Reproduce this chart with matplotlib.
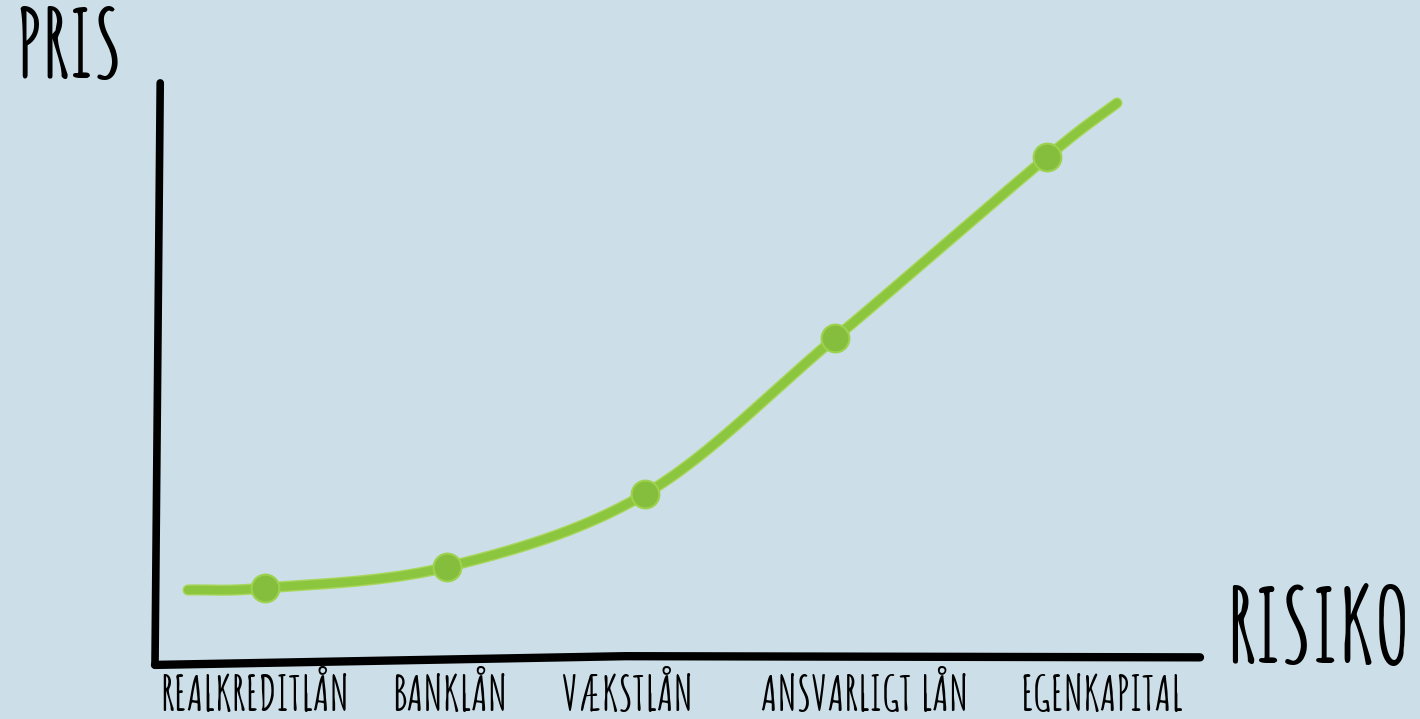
import numpy as np
import matplotlib.pyplot as plt

# --- data ---
categories = ["REALKREDITLÅN", "BANKLÅN", "VÆKSTLÅN", "ANSVARLIGT LÅN", "EGENKAPITAL"]
risk = [1.10, 2.92, 4.90, 6.80, 8.92]       # x of the dots
price = [0.74, 0.95, 1.68, 3.24, 5.05]      # y of the dots
# the drawn line runs a bit past the first and last dot
line_start = (0.33, 0.72)
line_end = (9.62, 5.59)

bg = "#CCDEE8"
green = "#8CC63F"
dot_green = "#84BE3C"


def catmull_rom(xs, ys, n=40):
    # smooth curve through the given points
    px = np.concatenate([[2 * xs[0] - xs[1]], xs, [2 * xs[-1] - xs[-2]]])
    py = np.concatenate([[2 * ys[0] - ys[1]], ys, [2 * ys[-1] - ys[-2]]])
    out_x, out_y = [], []
    t = np.linspace(0, 1, n)
    for i in range(1, len(px) - 2):
        for p, out in ((px, out_x), (py, out_y)):
            p0, p1, p2, p3 = p[i - 1], p[i], p[i + 1], p[i + 2]
            out.extend(0.5 * (2 * p1 + (-p0 + p2) * t
                              + (2 * p0 - 5 * p1 + 4 * p2 - p3) * t ** 2
                              + (-p0 + 3 * p1 - 3 * p2 + p3) * t ** 3))
    return np.array(out_x), np.array(out_y)


plt.rcParams['font.family'] = ['Amatic SC', 'DejaVu Sans']

fig = plt.figure(figsize=(14.2, 7.19), dpi=100, facecolor=bg)
ax = fig.add_axes([155 / 1420, 57 / 719, 1045 / 1420, 582 / 719])
ax.set_facecolor(bg)
ax.set_xlim(0, 10.45)
ax.set_ylim(0, 5.82)
for s in ax.spines.values():
    s.set_visible(False)
ax.set_yticks([])

# hand drawn axes
ax.plot([0.005, 0.0], [0.995, -0.005], transform=ax.transAxes, color="black",
        lw=5.5, solid_capstyle="round", clip_on=False)
ax.plot([0.0, 0.45, 1.0], [-0.005, 0.01, 0.008], transform=ax.transAxes,
        color="black", lw=6, solid_capstyle="round", clip_on=False)

# curve
cx = [line_start[0]] + risk + [line_end[0]]
cy = [line_start[1]] + price + [line_end[1]]
sx, sy = catmull_rom(np.array(cx), np.array(cy))
ax.plot(sx, sy, color="#A8D65A", lw=8, solid_capstyle="round", zorder=2)
ax.plot(sx, sy, color=green, lw=6, solid_capstyle="round", zorder=3)
ax.plot(risk, price, "o", color=dot_green, markersize=20,
        markeredgecolor="#9CD24E", markeredgewidth=1.5, zorder=4)

# category labels under the axis
label_pos = [1.0, 2.95, 4.73, 7.10, 9.47]
ax.set_xticks(label_pos)
ax.set_xticklabels(categories, fontsize=34, fontweight="bold", va="baseline")
ax.tick_params(axis="x", length=0, pad=35)

fig.text(15 / 1420, 1 - 78 / 719, "PRIS", fontsize=68, fontweight="bold",
         ha="left", va="baseline")
fig.text(1226 / 1420, 1 - 663 / 719, "RISIKO", fontsize=73, fontweight="bold",
         ha="left", va="baseline")

fig.savefig("out.png", dpi=100, facecolor=bg)
